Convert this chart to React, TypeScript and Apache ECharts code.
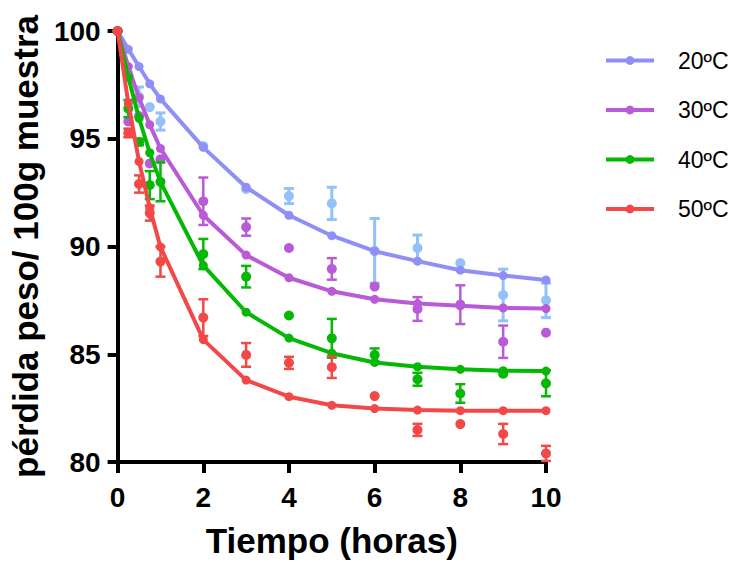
import React, { useEffect, useRef } from "react";
import * as echarts from "echarts";

const times = [0, 0.25, 0.5, 0.75, 1, 2, 3, 4, 5, 6, 7, 8, 9, 10];
const seriesNames = ["20ºC", "30ºC", "40ºC", "50ºC"];

// fitted curves
const fit20 = [100, 99.15, 98.35, 97.55, 96.85, 94.6, 92.75, 91.45, 90.5, 89.78, 89.32, 88.9, 88.65, 88.45];
const fit30 = [100, 98.35, 96.9, 95.65, 94.55, 91.45, 89.6, 88.55, 87.92, 87.55, 87.35, 87.25, 87.15, 87.12];
const fit40 = [100, 97.85, 95.95, 94.35, 93.0, 89.12, 86.95, 85.75, 85.05, 84.62, 84.42, 84.3, 84.24, 84.22];
const fit50 = [100, 96.65, 93.95, 91.8, 89.98, 85.68, 83.8, 83.03, 82.63, 82.48, 82.41, 82.38, 82.38, 82.38];

// measured means
const mean20 = [100, 98.0, 96.95, 96.47, 95.8, 94.66, 92.67, 92.34, 92.0, 89.8, 89.93, 89.23, 87.75, 87.5];
const mean30 = [100, 95.8, 96.05, 93.85, 94.05, 92.1, 90.9, 89.93, 88.96, 88.14, 87.1, 87.3, 85.58, 86.0];
const mean40 = [100, 96.4, 94.85, 92.85, 93.0, 89.65, 88.6, 86.8, 85.74, 84.97, 83.84, 83.18, 84.1, 83.65];
const mean50 = [100, 95.27, 92.9, 91.55, 89.3, 86.7, 84.97, 84.6, 84.4, 83.06, 81.49, 81.76, 81.3, 80.4];

// standard deviations
const err20 = [0, 0, 0.45, 0, 0.4, 0, 0, 0.35, 0.75, 1.5, 0.6, 0, 1.2, 0.8];
const err30 = [0, 0, 0, 0, 0, 1.1, 0.4, 0, 0.5, 0, 0.55, 0.9, 0.75, 0];
const err40 = [0, 0.4, 0.15, 0.65, 0.9, 0.7, 0.5, 0, 0.9, 0.3, 0.3, 0.43, 0, 0.6];
const err50 = [0, 0.2, 0.4, 0.35, 0.7, 0.85, 0.55, 0.28, 0.5, 0, 0.28, 0, 0.47, 0.35];

const yTicks = [80, 85, 90, 95, 100];

const lineColors = ["#8f8ff7", "#b95ad7", "#06b806", "#f24848"];
const dataColors = ["#93c1f8", "#b95ad7", "#06b806", "#f24848"];
const errWidths = [3, 2.5, 2.5, 2.5];

const fits = [fit20, fit30, fit40, fit50];
const means = [mean20, mean30, mean40, mean50];
const errs = [err20, err30, err40, err50];

const FONT = "Arial, 'Liberation Sans', Helvetica, sans-serif";

export default function App() {
  const ref = useRef<HTMLDivElement>(null);
  useEffect(() => {
    if (!ref.current) return;
    const chart = echarts.init(ref.current, null, { renderer: "svg" });
    const series: any[] = [];
    for (let k = 0; k < 4; k++) {
      const errData = times
        .map((t, i) => [t, means[k][i], errs[k][i]])
        .filter((d) => d[2] > 0);
      series.push({
        type: "custom",
        name: seriesNames[k] + " sd",
        data: errData,
        z: 2 + k * 3,
        renderItem: (params: any, api: any) => {
          const x = api.value(0);
          const y = api.value(1);
          const e = api.value(2);
          const top = api.coord([x, y + e]);
          const bot = api.coord([x, y - e]);
          const hw = 5;
          const st = { stroke: dataColors[k], lineWidth: errWidths[k] };
          return {
            type: "group",
            children: [
              { type: "line", shape: { x1: top[0], y1: top[1], x2: bot[0], y2: bot[1] }, style: st },
              { type: "line", shape: { x1: top[0] - hw, y1: top[1], x2: top[0] + hw, y2: top[1] }, style: st },
              { type: "line", shape: { x1: bot[0] - hw, y1: bot[1], x2: bot[0] + hw, y2: bot[1] }, style: st },
            ],
          };
        },
      });
      series.push({
        type: "scatter",
        name: seriesNames[k] + " datos",
        data: times.map((t, i) => [t, means[k][i]]),
        symbol: "circle",
        symbolSize: 10,
        itemStyle: { color: dataColors[k], opacity: 1 },
        z: 3 + k * 3,
      });
      series.push({
        type: "line",
        name: seriesNames[k],
        data: times.map((t, i) => [t, fits[k][i]]),
        symbol: "circle",
        symbolSize: 9,
        showSymbol: true,
        lineStyle: { color: lineColors[k], width: 4 },
        itemStyle: { color: lineColors[k], opacity: 1 },
        z: 4 + k * 3,
      });
    }
    chart.setOption({
      animation: false,
      backgroundColor: "#ffffff",
      textStyle: { fontFamily: FONT },
      grid: { left: 113, right: 186, top: 31, bottom: 103, containLabel: false },
      legend: {
        data: seriesNames,
        orient: "vertical",
        left: 604,
        top: 49,
        padding: 0,
        itemWidth: 48,
        itemHeight: 11,
        itemGap: 26.5,
        lineStyle: { width: 4 },
        textStyle: {
          fontSize: 23,
          color: "#000",
          lineHeight: 23,
          fontFamily: FONT,
          padding: [0, 0, 0, 19],
        },
      },
      xAxis: {
        type: "value",
        min: 0,
        max: 10,
        interval: 2,
        name: "Tiempo (horas)",
        nameLocation: "middle",
        nameGap: 61,
        nameTextStyle: { fontSize: 35, fontWeight: "bold", color: "#000", fontFamily: FONT },
        axisLine: { show: true, onZero: false, lineStyle: { color: "#000", width: 4 } },
        axisTick: { show: true, inside: false, length: 11, lineStyle: { color: "#000", width: 4 } },
        axisLabel: { fontSize: 28, fontWeight: "bold", color: "#000", margin: 21, fontFamily: FONT },
        splitLine: { show: false },
      },
      yAxis: {
        type: "value",
        min: yTicks[0],
        max: yTicks[yTicks.length - 1],
        interval: 5,
        name: "pérdida peso/ 100g muestra",
        nameLocation: "middle",
        nameGap: 66,
        nameTextStyle: { fontSize: 35, fontWeight: "bold", color: "#000", fontFamily: FONT },
        axisLine: { show: true, onZero: false, lineStyle: { color: "#000", width: 4 } },
        axisTick: { show: true, inside: false, length: 10, lineStyle: { color: "#000", width: 4 } },
        axisLabel: { fontSize: 28, fontWeight: "bold", color: "#000", margin: 17, fontFamily: FONT },
        splitLine: { show: false },
      },
      series,
    });
    return () => chart.dispose();
  }, []);
  return (
    <div
      ref={ref}
      style={{ position: "fixed", left: 0, top: 0, width: 732, height: 565 }}
    />
  );
}
